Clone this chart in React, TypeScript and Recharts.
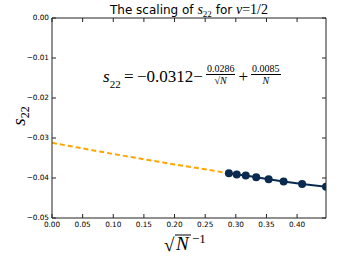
import React from 'react';
import { Line, LineChart, XAxis, YAxis } from 'recharts';

// dashed fit, extrapolated to N -> infinity
const fitX = [0, 0.1, 0.2, 0.2887];
const fitY = [-0.0312, -0.034, -0.0366, -0.0388];

// measured points, N = 12 ... 5
const pointX = [0.2887, 0.3015, 0.3162, 0.3333, 0.3536, 0.378, 0.4082, 0.4472];
const pointY = [-0.0388, -0.0391, -0.0394, -0.0398, -0.0403, -0.0409, -0.0415, -0.0422];

const xTicks = [0, 0.05, 0.1, 0.15, 0.2, 0.25, 0.3, 0.35, 0.4];
const yTicks = [0, -0.01, -0.02, -0.03, -0.04, -0.05];

const fitData = fitX.map((x, i) => ({ x, y: fitY[i] }));
const pointData = pointX.map((x, i) => ({ x, y: pointY[i] }));

const fmt = (v: number) => (v < 0 ? '\u2212' + Math.abs(v).toFixed(2) : v.toFixed(2));
const AXIS = '#222';
const serif = 'Liberation Serif';
const TL = 4; // inward tick length
const M = 3; // label gap
const MB = 4; // label gap, bottom axis

// ticks drawn inward (matplotlib style), label outside
const BottomTick = (p: any) => (
  <g>
    <line x1={p.x} x2={p.x} y1={p.y - MB} y2={p.y - MB - TL} stroke={AXIS} />
    <text x={p.x} y={p.y} dy="0.71em" textAnchor="middle" fontFamily="DejaVu Sans" fontSize={7.3}>
      {p.payload.value.toFixed(2)}
    </text>
  </g>
);
const LeftTick = (p: any) => (
  <g>
    <line x1={p.x + M} x2={p.x + M + TL} y1={p.y} y2={p.y} stroke={AXIS} />
    <text x={p.x} y={p.y} dy="0.3em" textAnchor="end" fontFamily="DejaVu Sans" fontSize={7.3}>
      {fmt(p.payload.value)}
    </text>
  </g>
);
const TopTick = (p: any) => (
  <line x1={p.x} x2={p.x} y1={p.y + M} y2={p.y + M + TL} stroke={AXIS} />
);
const RightTick = (p: any) => (
  <line x1={p.x - M} x2={p.x - M - TL} y1={p.y} y2={p.y} stroke={AXIS} />
);

const XLabel = (props: any) => {
  const { viewBox } = props;
  const cx = viewBox.x + viewBox.width / 2;
  const y = viewBox.y + 32;
  return (
    <g fontFamily={serif}>
      <text x={cx - 25} y={y + 1} fontSize={19}>{'\u221A'}</text>
      <line x1={cx - 14} x2={cx + 2} y1={y - 15} y2={y - 15} stroke="#000" strokeWidth={1} />
      <text x={cx - 13} y={y} fontSize={19} fontStyle="italic">N</text>
      <text x={cx + 3} y={y - 7} fontSize={13}>{'\u22121'}</text>
    </g>
  );
};

const YLabel = (props: any) => {
  const { viewBox } = props;
  const cy = viewBox.y + viewBox.height / 2 - 2;
  return (
    <text x={25} y={cy} transform={`rotate(-90 25 ${cy})`} textAnchor="middle" fontFamily={serif}>
      <tspan fontSize={19} fontStyle="italic">s</tspan>
      <tspan fontSize={12} dy={4}>22</tspan>
    </text>
  );
};

const frac = {
  display: 'inline-flex', flexDirection: 'column' as const, alignItems: 'center',
  fontSize: 10, lineHeight: '11px', margin: '0 3px', position: 'relative' as const, top: -2,
};

export default function App() {
  return (
    <div style={{ position: 'absolute', left: 0, top: 0, width: 344, height: 258, background: '#fff' }}>
      <div
        style={{
          position: 'absolute', left: 0, width: 344, top: 2, textAlign: 'center', paddingLeft: 34,
          boxSizing: 'border-box', fontFamily: 'DejaVu Sans', fontSize: 12, color: '#000',
        }}
      >
        The scaling of <i style={{ fontFamily: serif, fontSize: 14 }}>s</i>
        <sub style={{ fontFamily: serif, fontSize: 9 }}>22</sub> for{' '}
        <i style={{ fontFamily: serif, fontSize: 14 }}>{'\u03BD'}</i>
        <span style={{ fontFamily: serif, fontSize: 14 }}>{'=1/2'}</span>
      </div>
      <LineChart width={344} height={258} data={pointData} margin={{ top: 8, right: 8, bottom: 20, left: 12 }}>
        <XAxis
          xAxisId="b" dataKey="x" type="number" domain={[0, 0.4472]} ticks={xTicks} allowDataOverflow
          tick={<BottomTick />} tickLine={false} tickSize={0} tickMargin={MB}
          stroke={AXIS} height={20} label={<XLabel />}
        />
        <XAxis
          xAxisId="t" orientation="top" dataKey="x" type="number" domain={[0, 0.4472]} ticks={xTicks}
          allowDataOverflow tick={<TopTick />} tickLine={false} tickSize={0} tickMargin={M} stroke={AXIS} height={10}
        />
        <YAxis
          yAxisId="l" dataKey="y" type="number" domain={[-0.05, 0]} ticks={yTicks} allowDataOverflow
          tick={<LeftTick />} tickLine={false} tickSize={0} tickMargin={M} stroke={AXIS} width={40}
          label={<YLabel />}
        />
        <YAxis
          yAxisId="r" orientation="right" dataKey="y" type="number" domain={[-0.05, 0]} ticks={yTicks}
          allowDataOverflow tick={<RightTick />} tickLine={false} tickSize={0} tickMargin={M} stroke={AXIS} width={10}
        />
        <Line
          xAxisId="t" yAxisId="r" data={fitData} dataKey="y" stroke="#FFA500" strokeWidth={2}
          strokeDasharray="5 3" dot={false} isAnimationActive={false}
        />
        <Line
          xAxisId="b" yAxisId="l" data={pointData} dataKey="y" stroke="#0a2a50" strokeWidth={2}
          dot={{ r: 4, fill: '#0a2a50', stroke: '#0a2a50', strokeWidth: 0 }} isAnimationActive={false}
        />
      </LineChart>
      <div
        style={{
          position: 'absolute', left: 103, top: 65, fontFamily: serif, fontSize: 17, color: '#000',
          display: 'flex', alignItems: 'center', whiteSpace: 'nowrap',
        }}
      >
        <i>s</i>
        <sub style={{ fontSize: 11, alignSelf: 'flex-end', position: 'relative', top: 2 }}>22</sub>
        <span>{'\u2009=\u2009\u22120.0312\u2212'}</span>
        <span style={frac}>
          <span style={{ borderBottom: '1px solid #000', padding: '0 1px' }}>0.0286</span>
          <span>{'\u221A'}<i style={{ textDecoration: 'overline' }}>N</i></span>
        </span>
        <span>+</span>
        <span style={frac}>
          <span style={{ borderBottom: '1px solid #000', padding: '0 1px' }}>0.0085</span>
          <i>N</i>
        </span>
      </div>
    </div>
  );
}
